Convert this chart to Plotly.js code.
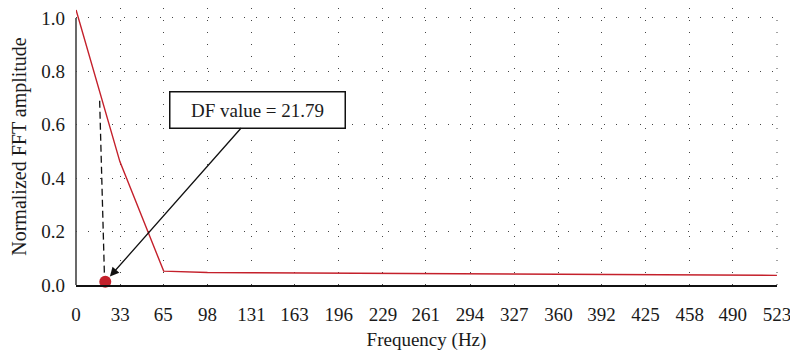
<!DOCTYPE html>
<html>
<head>
<meta charset="utf-8">
<script src="https://cdn.plot.ly/plotly-3.0.1.min.js"></script>
<style>html,body{margin:0;padding:0;background:#fff;}#chart{width:790px;height:357px;}</style>
</head>
<body>
<div id="chart"></div>
<script>
// Data
const freq = [0, 32.69, 65.38, 98.06, 130.75, 163.44, 196.13, 228.81, 261.5, 294.19, 326.88, 359.56, 392.25, 424.94, 457.63, 490.31, 523];
const amplitude = [1.03, 0.462, 0.052, 0.047, 0.046, 0.045, 0.044, 0.043, 0.043, 0.042, 0.041, 0.040, 0.040, 0.039, 0.038, 0.037, 0.036];
const xTickVals = [0, 33, 65, 98, 131, 163, 196, 229, 261, 294, 327, 360, 392, 425, 458, 490, 523];
const xTickText = ["0", "33", "65", "98", "131", "163", "196", "229", "261", "294", "327", "360", "392", "425", "458", "490", "523"];
const yTickVals = [0, 0.2, 0.4, 0.6, 0.8, 1.0];
const dfValue = 21.79;
const dfAmp = 0.012;
const dashTop = 0.69;

const red = '#c4202b';
const fontFam = 'Liberation Serif, DejaVu Serif, serif';

const traces = [
  {
    x: freq, y: amplitude, type: 'scatter', mode: 'lines',
    line: {color: red, width: 1.4}, hoverinfo: 'skip', showlegend: false
  },
  {
    x: [dfValue], y: [dfAmp], type: 'scatter', mode: 'markers',
    marker: {color: red, size: 12}, cliponaxis: false, showlegend: false
  }
];

const layout = {
  width: 790, height: 357,
  margin: {l: 76, r: 13, t: 8, b: 72},
  paper_bgcolor: '#ffffff', plot_bgcolor: '#ffffff',
  font: {family: fontFam, size: 19, color: '#1a1a1a'},
  showlegend: false,
  xaxis: {
    range: [-0.05, 523.05], tickmode: 'array', tickvals: xTickVals, ticktext: xTickText,
    showgrid: true, gridcolor: '#444444', gridwidth: 1, griddash: '1px,11px',
    zeroline: false, showline: true, linecolor: '#111111', linewidth: 1.6,
    ticks: '', ticklabelstandoff: 12, ticklabeloverflow: 'allow',
    tickfont: {family: fontFam, size: 19},
    title: {text: 'Frequency (Hz)', font: {family: fontFam, size: 19}, standoff: 8}
  },
  yaxis: {
    range: [0, 1.037], tickmode: 'array', tickvals: yTickVals, tickformat: '.1f',
    showgrid: true, gridcolor: '#444444', gridwidth: 1, griddash: '1px,11px',
    zeroline: false, showline: false,
    ticks: '', ticklabelstandoff: 10,
    tickfont: {family: fontFam, size: 19},
    title: {text: 'Normalized FFT amplitude', font: {family: fontFam, size: 20}, standoff: 9}
  },
  shapes: [
    {type: 'line', xref: 'paper', yref: 'y', x0: 0, x1: 0, y0: 0, y1: 1.0,
     line: {color: '#444444', width: 1.6}},
    {type: 'line', xref: 'paper', yref: 'y', x0: 1, x1: 1, y0: 0, y1: 1.0,
     line: {color: '#444444', width: 1, dash: '1px,11px'}, layer: 'below'},
    {type: 'line', xref: 'x', yref: 'y', x0: 17.6, x1: dfValue - 0.6, y0: dashTop, y1: dfAmp + 0.02,
     line: {color: '#111111', width: 1.3, dash: '7px,4px'}}
  ],
  annotations: [
    {
      x: dfValue, y: dfAmp, xref: 'x', yref: 'y',
      text: 'DF value = 21.79', showarrow: true,
      axref: 'pixel', ayref: 'pixel', ax: 152, ay: -172,
      arrowhead: 2, arrowsize: 1.4, arrowwidth: 1.3, arrowcolor: '#111111', standoff: 7,
      bgcolor: '#ffffff', bordercolor: '#111111', borderwidth: 1.5, borderpad: 7,
      width: 160, height: 21,
      font: {family: fontFam, size: 19, color: '#1a1a1a'}
    }
  ]
};

Plotly.newPlot('chart', traces, layout, {displayModeBar: false, staticPlot: true});
</script>
</body>
</html>
